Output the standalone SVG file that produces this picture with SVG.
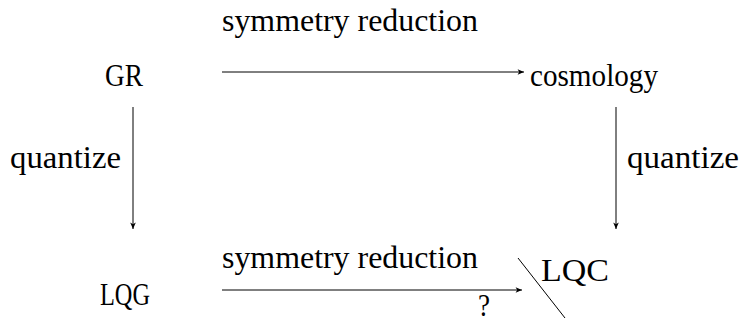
<svg xmlns="http://www.w3.org/2000/svg" width="740" height="325" viewBox="0 0 740 325">
<defs>
<marker id="ah" viewBox="0 0 10 10" refX="9" refY="5" markerWidth="8" markerHeight="8" markerUnits="userSpaceOnUse" orient="auto">
<path d="M1,1.5 L9,5 L1,8.5 L3,5 Z" fill="#000"/>
</marker>
</defs>
<style>
.t{font-family:'Liberation Serif','DejaVu Serif',serif;font-size:31px;fill:#000}
.ar{stroke:#000;stroke-width:1;fill:none;marker-end:url(#ah)}
</style>
<rect width="740" height="325" fill="#fff"/>
<g id="GR"><text class="t" x="105" y="86" textLength="38" lengthAdjust="spacingAndGlyphs">GR</text></g>
<g id="cosmology"><text class="t" x="530" y="86" textLength="128" lengthAdjust="spacingAndGlyphs">cosmology</text></g>
<g id="LQG"><text class="t" x="100" y="305" textLength="50" lengthAdjust="spacingAndGlyphs">LQG</text></g>
<g id="LQC"><text class="t" x="541" y="281" textLength="68" lengthAdjust="spacingAndGlyphs">LQC</text></g>
<g id="connectors">
<line class="ar" x1="222" y1="72" x2="524" y2="72"/>
<line class="ar" x1="222" y1="290" x2="522" y2="290"/>
<line class="ar" x1="133" y1="107" x2="133" y2="229"/>
<line class="ar" x1="616" y1="107" x2="616" y2="229"/>
<line x1="518" y1="258" x2="565" y2="318" stroke="#000" stroke-width="1"/>
<text class="t" x="222" y="31" textLength="256" lengthAdjust="spacingAndGlyphs">symmetry reduction</text>
<text class="t" x="222" y="268" textLength="256" lengthAdjust="spacingAndGlyphs">symmetry reduction</text>
<text class="t" x="10" y="168" textLength="111" lengthAdjust="spacingAndGlyphs">quantize</text>
<text class="t" x="627" y="168" textLength="112" lengthAdjust="spacingAndGlyphs">quantize</text>
<text class="t" x="478" y="316" textLength="12" lengthAdjust="spacingAndGlyphs">?</text>
</g>
</svg>
